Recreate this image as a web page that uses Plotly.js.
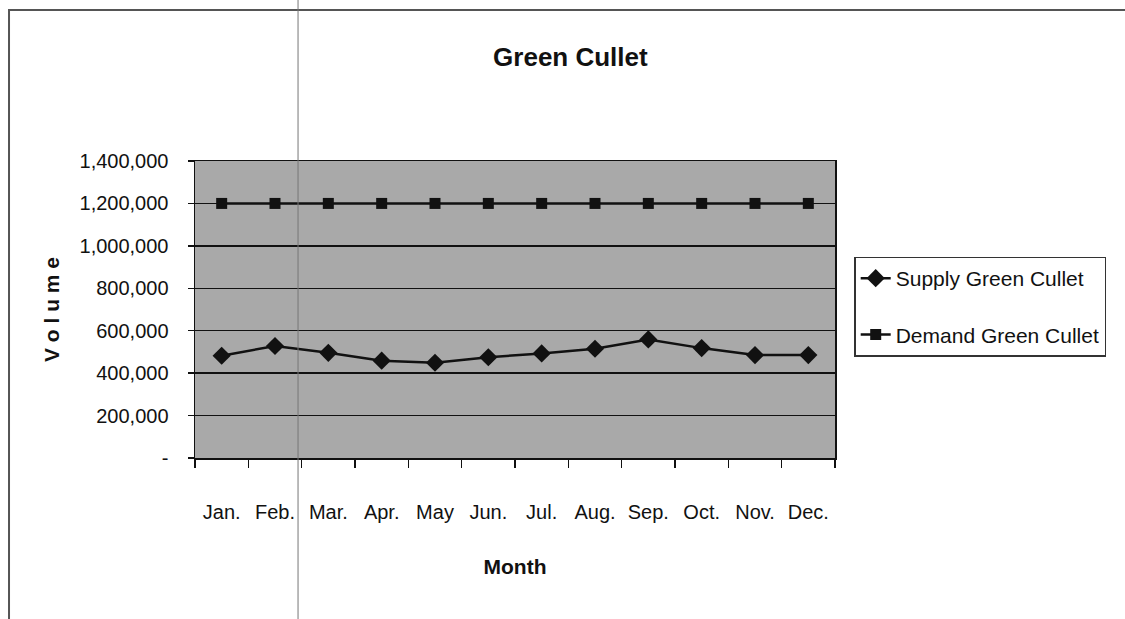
<!DOCTYPE html>
<html>
<head>
<meta charset="utf-8">
<script src="https://cdn.plot.ly/plotly-3.0.1.min.js"></script>
<style>html,body{margin:0;padding:0;background:#fff;}#chart{width:1125px;height:619px;}</style>
</head>
<body>
<div id="chart"></div>
<script>
const months = ["Jan.","Feb.","Mar.","Apr.","May","Jun.","Jul.","Aug.","Sep.","Oct.","Nov.","Dec."];
const supply = [482000,528000,496000,459000,449000,475000,493000,515000,559000,518000,485000,485000];
const demand = [1200000,1200000,1200000,1200000,1200000,1200000,1200000,1200000,1200000,1200000,1200000,1200000];
const yTickVals = [0,200000,400000,600000,800000,1000000,1200000,1400000];
const yTickText = ["-","200,000","400,000","600,000","800,000","1,000,000","1,200,000","1,400,000"];

const FONT = "'Liberation Sans', Arial, sans-serif";

const traces = [
  {x: months, y: supply, name: "Supply Green Cullet", type: "scatter", mode: "lines+markers",
   legendgroup: "a",
   line: {color: "#111", width: 2.5},
   marker: {symbol: "diamond", size: 14, color: "#111"}},
  {x: months, y: demand, name: "Demand Green Cullet", type: "scatter", mode: "lines+markers",
   legendgroup: "b",
   line: {color: "#111", width: 2.5},
   marker: {symbol: "square", size: 11, color: "#111"}}
];

const layout = {
  width: 1125, height: 619,
  margin: {l: 195, r: 290, t: 161, b: 161},
  paper_bgcolor: "#ffffff",
  plot_bgcolor: "#a9a9a9",
  font: {family: FONT, size: 20, color: "#111"},
  showlegend: true,
  title: {text: "<b>Green Cullet</b>", font: {family: FONT, size: 26, color: "#111"},
          xref: "container", x: 0.507, xanchor: "center", yref: "container", y: 0.908, yanchor: "middle"},
  xaxis: {
    type: "category", range: [-0.5, 11.5], tickson: "boundaries",
    ticks: "outside", ticklen: 8, tickwidth: 1.5, tickcolor: "#111",
    showgrid: false, showline: true, linecolor: "#111", linewidth: 1.5, mirror: true,
    tickangle: 0,
    ticklabelstandoff: 35,
    tickfont: {family: FONT, size: 20, color: "#111"},
    title: {text: "<b>Month</b>", font: {family: FONT, size: 21, color: "#111"}, standoff: 38}
  },
  yaxis: {
    range: [0, 1400000], tickvals: yTickVals, ticktext: yTickText,
    ticks: "outside", ticklen: 6, tickwidth: 1.5, tickcolor: "#111",
    showgrid: true, gridcolor: "#111", gridwidth: 1.5,
    showline: true, linecolor: "#111", linewidth: 1.5, mirror: true,
    zeroline: false,
    ticklabelstandoff: 15,
    tickfont: {family: FONT, size: 20, color: "#111"},
    title: {text: "<b>V o l u m e</b>", font: {family: FONT, size: 21, color: "#111"}, standoff: 14}
  },
  legend: {
    x: 1.03, xanchor: "left", y: 0.51, yanchor: "middle",
    bgcolor: "#ffffff", bordercolor: "#333", borderwidth: 1.5,
    font: {family: FONT, size: 21, color: "#111"},
    traceorder: "grouped", tracegroupgap: 26
  },
  shapes: [
    {type: "rect", xref: "paper", yref: "paper", x0: -0.2906, x1: 1.6, y0: -0.7, y1: 1.508,
     line: {color: "#555", width: 2}, fillcolor: "rgba(0,0,0,0)", layer: "below"},
    {type: "line", xref: "paper", yref: "paper", x0: 0.161, x1: 0.161, y0: -0.6, y1: 1.6,
     line: {color: "#777", width: 1}, layer: "above"}
  ]
};

Plotly.newPlot("chart", traces, layout, {displayModeBar: false, staticPlot: true});
</script>
</body>
</html>
